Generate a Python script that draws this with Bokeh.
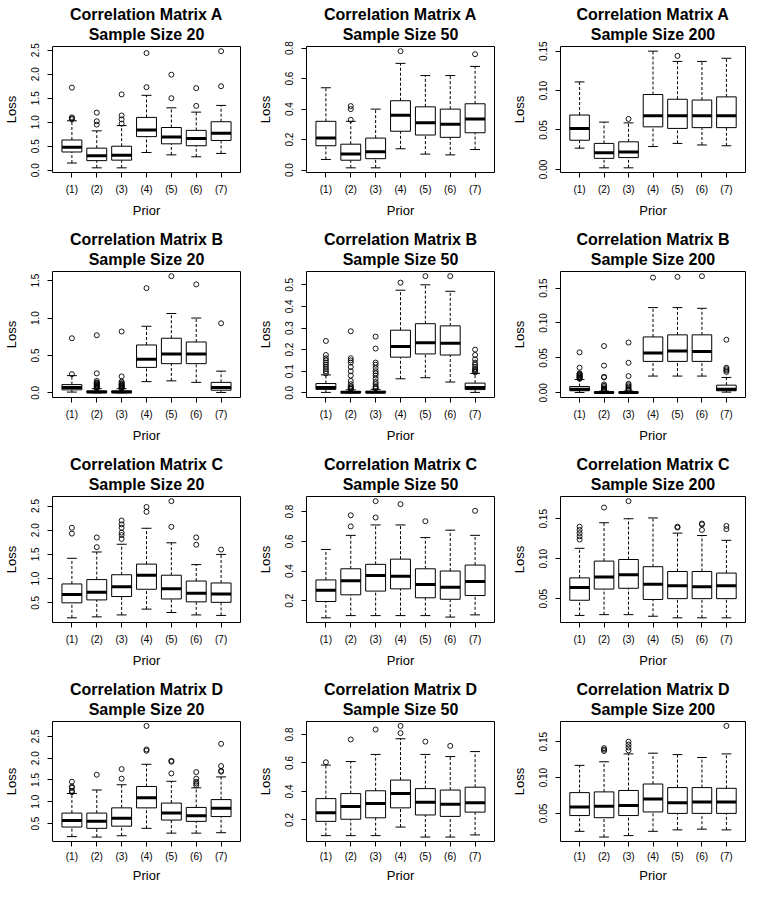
from bokeh.plotting import figure
from bokeh.layouts import gridplot
from bokeh.models import Range1d, FixedTicker, NumeralTickFormatter, Title
from bokeh.embed import file_html
from bokeh.resources import INLINE

categories = ["(1)", "(2)", "(3)", "(4)", "(5)", "(6)", "(7)"]
matrices = ["A", "B", "C", "D"]
sample_sizes = [20, 50, 200]

# per prior: [lower whisker, Q1, median, Q3, upper whisker]
A20_stats = [[0.15, 0.38, 0.48, 0.63, 1.03], [0.05, 0.20, 0.30, 0.46, 0.82], [0.05, 0.21, 0.31, 0.50, 0.93],
             [0.37, 0.70, 0.84, 1.10, 1.56], [0.32, 0.55, 0.69, 0.89, 1.30], [0.28, 0.51, 0.66, 0.83, 1.21],
             [0.35, 0.62, 0.77, 1.01, 1.35]]
A20_outliers = [[1.06, 1.08, 1.10, 1.72], [0.95, 1.02, 1.20], [0.97, 1.06, 1.14, 1.58], [1.73, 2.44],
                [1.50, 1.99], [1.34, 1.71], [1.75, 2.48]]
A20_ticks = [0.0, 0.5, 1.0, 1.5, 2.0, 2.5]

A50_stats = [[0.07, 0.16, 0.21, 0.32, 0.54], [0.015, 0.065, 0.105, 0.17, 0.32], [0.015, 0.075, 0.12, 0.21, 0.40],
             [0.14, 0.255, 0.36, 0.455, 0.70], [0.105, 0.23, 0.31, 0.415, 0.62], [0.10, 0.215, 0.30, 0.40, 0.62],
             [0.135, 0.245, 0.335, 0.435, 0.68]]
A50_outliers = [[], [0.33, 0.40, 0.42], [], [0.78], [], [], [0.76]]
A50_ticks = [0.0, 0.2, 0.4, 0.6, 0.8]

A200_stats = [[0.027, 0.037, 0.052, 0.069, 0.111], [0.002, 0.014, 0.021, 0.033, 0.060], [0.002, 0.015, 0.022, 0.035, 0.059],
              [0.029, 0.054, 0.068, 0.095, 0.150], [0.033, 0.052, 0.068, 0.089, 0.137], [0.031, 0.053, 0.068, 0.088, 0.137],
              [0.030, 0.053, 0.068, 0.092, 0.141]]
A200_outliers = [[], [], [0.064], [], [0.144], [], []]
A200_ticks = [0.00, 0.05, 0.10, 0.15]

B20_stats = [[0.01, 0.04, 0.07, 0.11, 0.23], [0.0, 0.003, 0.01, 0.025, 0.055], [0.0, 0.003, 0.01, 0.025, 0.055],
             [0.15, 0.34, 0.45, 0.64, 0.89], [0.16, 0.39, 0.52, 0.73, 1.06], [0.14, 0.39, 0.52, 0.68, 1.00],
             [0.005, 0.035, 0.07, 0.14, 0.29]]
B20_outliers = [[0.25, 0.73], [0.06, 0.07, 0.08, 0.09, 0.10, 0.11, 0.12, 0.13, 0.14, 0.16, 0.26, 0.77],
                [0.06, 0.07, 0.08, 0.09, 0.10, 0.11, 0.12, 0.13, 0.15, 0.22, 0.82], [1.40], [1.56], [1.45], [0.93]]
B20_ticks = [0.0, 0.5, 1.0, 1.5]

B50_stats = [[0.002, 0.016, 0.025, 0.043, 0.083], [0.0, 0.001, 0.003, 0.006, 0.014], [0.0, 0.001, 0.003, 0.007, 0.016],
             [0.065, 0.165, 0.215, 0.29, 0.475], [0.07, 0.18, 0.232, 0.32, 0.50], [0.05, 0.175, 0.23, 0.31, 0.47],
             [0.002, 0.015, 0.025, 0.045, 0.09]]
B50_outliers = [[0.09, 0.10, 0.11, 0.12, 0.13, 0.14, 0.15, 0.16, 0.175, 0.24],
                [0.017, 0.02, 0.025, 0.03, 0.04, 0.055, 0.08, 0.10, 0.12, 0.14, 0.15, 0.16, 0.285],
                [0.02, 0.025, 0.03, 0.04, 0.05, 0.065, 0.08, 0.09, 0.10, 0.115, 0.13, 0.14, 0.205, 0.26],
                [0.51], [0.54], [0.54],
                [0.095, 0.10, 0.105, 0.11, 0.12, 0.13, 0.14, 0.155, 0.175, 0.20]]
B50_ticks = [0.0, 0.1, 0.2, 0.3, 0.4, 0.5]

B200_stats = [[0.0005, 0.003, 0.005, 0.009, 0.019], [0.0, 0.0, 0.0003, 0.001, 0.0025], [0.0, 0.0, 0.0003, 0.001, 0.0025],
              [0.024, 0.045, 0.057, 0.080, 0.122], [0.024, 0.045, 0.060, 0.083, 0.122], [0.024, 0.045, 0.059, 0.083, 0.121],
              [0.001, 0.003, 0.005, 0.011, 0.022]]
B200_outliers = [[0.02, 0.021, 0.022, 0.023, 0.024, 0.025, 0.026, 0.027, 0.028, 0.036, 0.058],
                 [0.003, 0.004, 0.005, 0.006, 0.008, 0.010, 0.012, 0.022, 0.023, 0.039, 0.067],
                 [0.003, 0.004, 0.005, 0.007, 0.009, 0.011, 0.013, 0.024, 0.043, 0.072],
                 [0.165], [0.166], [0.167], [0.030, 0.032, 0.034, 0.036, 0.076]]
B200_ticks = [0.00, 0.05, 0.10, 0.15]

C20_stats = [[0.19, 0.50, 0.67, 0.89, 1.42], [0.21, 0.56, 0.72, 0.98, 1.55], [0.25, 0.63, 0.83, 1.08, 1.71],
             [0.37, 0.78, 1.07, 1.30, 2.04], [0.30, 0.58, 0.79, 1.07, 1.74], [0.25, 0.52, 0.70, 0.95, 1.29],
             [0.24, 0.51, 0.68, 0.91, 1.50]]
C20_outliers = [[1.93, 2.05], [1.65, 1.85], [1.82, 1.90, 1.95, 2.05, 2.12, 2.20], [2.38, 2.48], [2.07, 2.60],
                [1.70, 1.85], [1.60]]
C20_ticks = [0.5, 1.0, 1.5, 2.0, 2.5]

C50_stats = [[0.085, 0.195, 0.27, 0.34, 0.545], [0.10, 0.24, 0.335, 0.415, 0.64], [0.10, 0.265, 0.37, 0.445, 0.71],
             [0.10, 0.28, 0.365, 0.48, 0.71], [0.10, 0.22, 0.31, 0.415, 0.625], [0.09, 0.21, 0.29, 0.40, 0.675],
             [0.105, 0.235, 0.33, 0.44, 0.64]]
C50_outliers = [[], [0.70, 0.775], [0.76, 0.87], [0.85], [0.735], [], [0.805]]
C50_ticks = [0.2, 0.4, 0.6, 0.8]

C200_stats = [[0.029, 0.048, 0.064, 0.076, 0.113], [0.030, 0.062, 0.077, 0.097, 0.145], [0.030, 0.063, 0.080, 0.099, 0.150],
              [0.028, 0.049, 0.068, 0.090, 0.151], [0.026, 0.050, 0.066, 0.084, 0.132], [0.026, 0.050, 0.065, 0.084, 0.129],
              [0.026, 0.050, 0.066, 0.082, 0.123]]
C200_outliers = [[0.124, 0.128, 0.132, 0.136, 0.140], [0.164], [0.172], [], [0.139, 0.140],
                 [0.136, 0.143, 0.144], [0.137, 0.141]]
C200_ticks = [0.05, 0.10, 0.15]

D20_stats = [[0.20, 0.42, 0.57, 0.74, 1.19], [0.19, 0.39, 0.55, 0.74, 1.27], [0.22, 0.44, 0.62, 0.86, 1.39],
             [0.39, 0.86, 1.09, 1.35, 1.86], [0.28, 0.58, 0.74, 0.97, 1.47], [0.28, 0.55, 0.68, 0.87, 1.32],
             [0.29, 0.66, 0.85, 1.05, 1.57]]
D20_outliers = [[1.22, 1.25, 1.32, 1.35, 1.46], [1.62], [1.53, 1.75], [2.17, 2.20, 2.74], [1.65, 1.92, 1.94],
                [1.38, 1.42, 1.46, 1.53, 1.68], [1.69, 1.71, 1.82, 2.33]]
D20_ticks = [0.5, 1.0, 1.5, 2.0, 2.5]

D50_stats = [[0.09, 0.19, 0.25, 0.35, 0.585], [0.09, 0.205, 0.295, 0.385, 0.61], [0.09, 0.215, 0.315, 0.405, 0.66],
             [0.15, 0.285, 0.385, 0.48, 0.77], [0.08, 0.235, 0.325, 0.42, 0.66], [0.08, 0.225, 0.31, 0.41, 0.645],
             [0.095, 0.255, 0.32, 0.43, 0.68]]
D50_outliers = [[0.605], [0.765], [0.835], [0.81, 0.86], [0.75], [0.72], []]
D50_ticks = [0.2, 0.4, 0.6, 0.8]

D200_stats = [[0.025, 0.047, 0.059, 0.079, 0.117], [0.017, 0.044, 0.060, 0.080, 0.122], [0.019, 0.047, 0.061, 0.082, 0.133],
              [0.025, 0.052, 0.070, 0.091, 0.134], [0.027, 0.050, 0.065, 0.086, 0.132], [0.028, 0.050, 0.066, 0.086, 0.128],
              [0.027, 0.050, 0.066, 0.085, 0.133]]
D200_outliers = [[], [0.137, 0.139, 0.141], [0.138, 0.142, 0.146, 0.150], [], [], [], [0.172]]
D200_ticks = [0.05, 0.10, 0.15]

tick_formats = {20: "0.0", 50: "0.0", 200: "0.00"}

panels = {
    ("A", 20): (A20_stats, A20_outliers, A20_ticks), ("A", 50): (A50_stats, A50_outliers, A50_ticks),
    ("A", 200): (A200_stats, A200_outliers, A200_ticks),
    ("B", 20): (B20_stats, B20_outliers, B20_ticks), ("B", 50): (B50_stats, B50_outliers, B50_ticks),
    ("B", 200): (B200_stats, B200_outliers, B200_ticks),
    ("C", 20): (C20_stats, C20_outliers, C20_ticks), ("C", 50): (C50_stats, C50_outliers, C50_ticks),
    ("C", 200): (C200_stats, C200_outliers, C200_ticks),
    ("D", 20): (D20_stats, D20_outliers, D20_ticks), ("D", 50): (D50_stats, D50_outliers, D50_ticks),
    ("D", 200): (D200_stats, D200_outliers, D200_ticks),
}

FONT = "Liberation Sans"
col_w = [254, 254, 238]
col_left = [52, 52, 51]
col_right = [14, 14, 1]
row_h = [225, 225, 225, 210]
row_top = [46, 46, 46, 46]
row_bottom = [53, 53, 53, 40]
row_xlab_standoff = [6, 6, 6, 4]
row_xaxis_standoff = [5, 5, 5, 3]

BOXW = 0.8
CAPW = 0.4


def make_panel(mat, n, r, c):
    stats, outs, ticks = panels[(mat, n)]
    k = len(categories)
    xs = list(range(1, k + 1))
    allv = [v for s in stats for v in s] + [v for o in outs for v in o]
    lo, hi = min(allv), max(allv)
    pad = 0.04 * (hi - lo)
    xpad = 0.04 * k
    p = figure(width=col_w[c], height=row_h[r], output_backend="svg", toolbar_location=None,
               x_range=Range1d(0.5 - xpad, k + 0.5 + xpad), y_range=Range1d(lo - pad, hi + pad),
               title="Correlation Matrix %s" % mat)
    p.min_border_left = col_left[c]
    p.min_border_right = col_right[c]
    p.min_border_top = row_top[r]
    p.min_border_bottom = row_bottom[r]
    p.title.align = "center"
    p.title.text_font = FONT
    p.title.text_font_size = "16px"
    p.title.text_font_style = "bold"
    p.title.text_color = "black"
    p.title.standoff = -6
    sub = Title(text="Sample Size %d" % n, align="center", text_font=FONT, text_font_size="16px",
                text_font_style="bold", text_color="black", standoff=8)
    p.add_layout(sub, "above")

    p.background_fill_color = "white"
    p.border_fill_color = "white"
    p.outline_line_color = "black"
    p.outline_line_width = 1
    p.outline_line_alpha = 1
    p.xgrid.grid_line_color = None
    p.ygrid.grid_line_color = None

    lw = [s[0] for s in stats]
    q1 = [s[1] for s in stats]
    md = [s[2] for s in stats]
    q3 = [s[3] for s in stats]
    uw = [s[4] for s in stats]

    p.segment(x0=xs, y0=q3, x1=xs, y1=uw, line_color="black", line_width=1, line_dash="3 2")
    p.segment(x0=xs, y0=lw, x1=xs, y1=q1, line_color="black", line_width=1, line_dash="3 2")
    p.segment(x0=[x - CAPW / 2 for x in xs], y0=uw, x1=[x + CAPW / 2 for x in xs], y1=uw,
              line_color="black", line_width=1)
    p.segment(x0=[x - CAPW / 2 for x in xs], y0=lw, x1=[x + CAPW / 2 for x in xs], y1=lw,
              line_color="black", line_width=1)
    p.quad(left=[x - BOXW / 2 for x in xs], right=[x + BOXW / 2 for x in xs], bottom=q1, top=q3,
           fill_color="white", line_color="black", line_width=1)
    p.segment(x0=[x - BOXW / 2 for x in xs], y0=md, x1=[x + BOXW / 2 for x in xs], y1=md,
              line_color="black", line_width=3)
    ox, oy = [], []
    for x, o in zip(xs, outs):
        ox += [x] * len(o)
        oy += o
    p.scatter(x=ox, y=oy, marker="circle", size=5, fill_color=None, line_color="black", line_width=0.9)

    p.xaxis.ticker = FixedTicker(ticks=xs)
    p.xaxis.major_label_overrides = {x: lab for x, lab in zip(xs, categories)}
    p.yaxis.ticker = FixedTicker(ticks=ticks)
    p.yaxis.formatter = NumeralTickFormatter(format=tick_formats[n])
    p.yaxis.major_label_orientation = "vertical"
    p.xaxis.axis_label = "Prior"
    p.yaxis.axis_label = "Loss"
    for ax in (p.xaxis, p.yaxis):
        ax.axis_line_color = None
        ax.major_tick_out = 5
        ax.major_tick_in = 0
        ax.major_tick_line_color = "black"
        ax.minor_tick_line_color = None
        ax.major_label_text_font = FONT
        ax.major_label_text_font_size = "10px"
        ax.major_label_text_color = "black"
        ax.axis_label_text_font = FONT
        ax.axis_label_text_font_size = "13px"
        ax.axis_label_text_font_style = "normal"
        ax.axis_label_text_color = "black"
    p.xaxis.major_label_standoff = row_xlab_standoff[r]
    p.xaxis.axis_label_standoff = row_xaxis_standoff[r]
    p.yaxis.major_label_standoff = 8
    p.yaxis.axis_label_standoff = 10
    return p


rows = []
for r, mat in enumerate(matrices):
    rows.append([make_panel(mat, n, r, c) for c, n in enumerate(sample_sizes)])

grid = gridplot(rows, toolbar_location=None)
open("out.html", "w").write(file_html(grid, INLINE))
